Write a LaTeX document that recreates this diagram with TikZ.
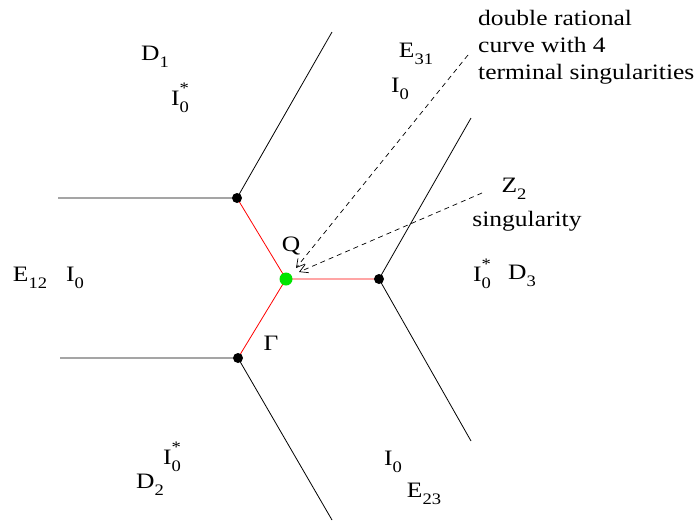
\documentclass[tikz,border=0pt]{standalone}
\usepackage{fontspec}
\setmainfont[FakeStretch=1.16]{Liberation Serif}
\usetikzlibrary{arrows.meta}
\newcommand\lsub[1]{\raisebox{-0.32em}{\fontsize{16}{16}\selectfont #1}}
\newcommand\lsubsup[2]{\rlap{\raisebox{0.55em}{\fontsize{16}{16}\selectfont #2}}\raisebox{-0.32em}{\fontsize{16}{16}\selectfont #1}}
\begin{document}
\begin{tikzpicture}[x=1pt,y=-1pt,
  every node/.style={font=\fontsize{22}{27}\selectfont, inner sep=0pt},
  edge/.style={line width=0.8pt, black},
  redge/.style={line width=0.8pt, red},
  dot/.style={circle, fill=black, minimum size=10pt, inner sep=0pt},
  gdot/.style={circle, fill=green!90!black, minimum size=13pt, inner sep=0pt},
  pointer/.style={line width=0.7pt, dash pattern=on 5pt off 4pt, -{Straight Barb[length=8pt,width=9pt]}}]
\useasboundingbox (0,0) rectangle (696,523);
% vertices
\coordinate (A) at (237,198);
\coordinate (Q) at (286,279);
\coordinate (B) at (379,279);
\coordinate (C) at (238,358);
\coordinate (Al) at (58,198);
\coordinate (Au) at (332,32);
\coordinate (Bu) at (471,118);
\coordinate (Bd) at (471,441);
\coordinate (Cl) at (60,358);
\coordinate (Cd) at (332,520);
% black edges
\draw[edge] (Al) -- (A) -- (Au);
\draw[edge] (Bu) -- (B) -- (Bd);
\draw[edge] (Cl) -- (C) -- (Cd);
% red edges
\draw[redge] (A) -- (Q) -- (B);
\draw[redge] (Q) -- (C);
\node[dot] (nA) at (A) {};
\node[dot] (nB) at (B) {};
\node[dot] (nC) at (C) {};
\node[gdot] (nQ) at (Q) {};
% labels
\node (D1) at (155,57) {D\lsub{1}};
\node (I1) at (180,98) {I\lsubsup{0}{*}};
\node (E31) at (416,54) {E\lsub{31}};
\node (I31) at (400,89) {I\lsub{0}};
\node[align=left, anchor=north west] (txt) at (478,10) {double rational\\curve with 4\\terminal singularities};
\node (Z2) at (514,189) {Z\lsub{2}};
\node (sing) at (527,221) {singularity};
\node (Qlab) at (291,246) {Q};
\node (I3) at (482,274) {I\lsubsup{0}{*}};
\node (D3) at (522,276) {D\lsub{3}};
\node (E12) at (30,278) {E\lsub{12}};
\node (I12) at (75,278) {I\lsub{0}};
\node (Gam) at (271,343) {Γ};
\node (I2) at (172,457) {I\lsubsup{0}{*}};
\node (D2) at (150,485) {D\lsub{2}};
\node (I23) at (393,462) {I\lsub{0}};
\node (E23) at (424,494) {E\lsub{23}};
% pointers
\coordinate (p1) at (468,55);
\coordinate (p2) at (482,193);
\coordinate (t1) at (296,268);
\coordinate (t2) at (299,272);
\draw[pointer] (p1) -- (t1);
\draw[pointer] (p2) -- (t2);
\end{tikzpicture}
\end{document}
